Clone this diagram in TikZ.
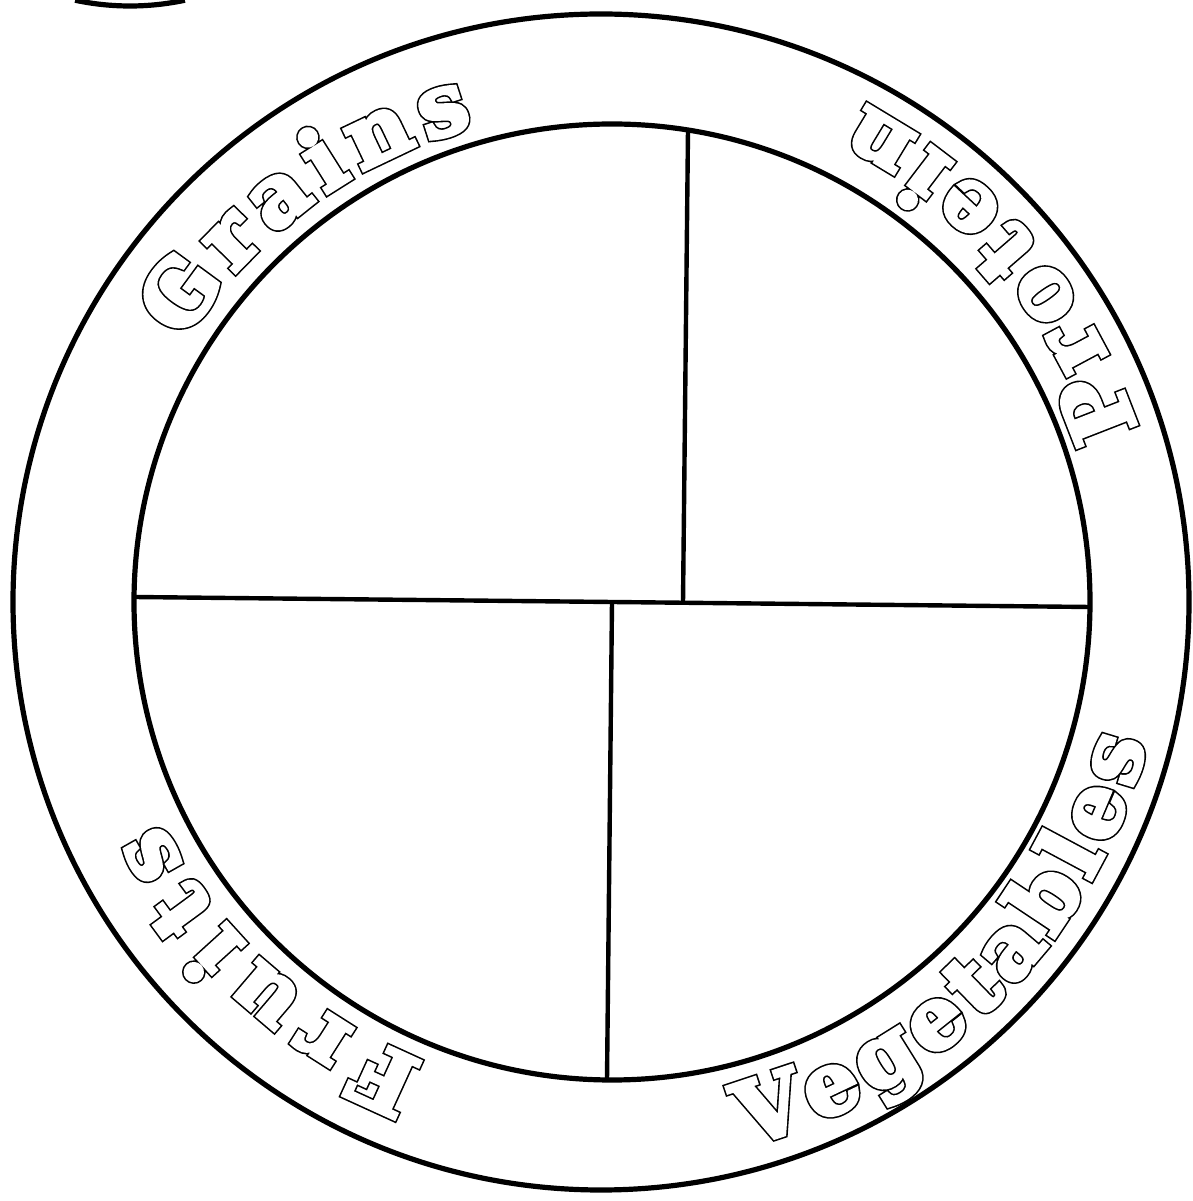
\documentclass[tikz,border=0pt]{standalone}
\usepackage{fontspec}
\usepackage{tikz}
\usetikzlibrary{decorations.text,calc}
\newfontfamily\platefont{DejaVu Serif}
% hollow heavy letters: a fat black glyph, then a thinner white one on top
\newcommand\inkfont{\platefont\bfseries\fontsize{43}{47}\selectfont\color{black}\special{pdf:literal direct 2 Tr 3.7 w}}
\newcommand\paperfont{\platefont\bfseries\fontsize{43}{47}\selectfont\color{white}\special{pdf:literal direct 2 Tr 2.1 w}}
\tikzset{
  rim/.style={draw=black, line width=2.6pt},
  divider/.style={draw=black, line width=2.2pt},
  ringink/.style={decorate, decoration={text along path, text align=fit to path, text={|\inkfont|#1}}},
  ringpaper/.style={decorate, decoration={text along path, text align=fit to path, text={|\paperfont|#1}}},
}

\begin{document}
\begin{tikzpicture}[x=0.5pt, y=0.5pt]
  \useasboundingbox (0,0) rectangle (1193,1201);
  % --- plate
  \coordinate (oc) at (601,599);
  \coordinate (ic) at (612,599);
  \draw[rim] (oc) circle[radius=588];
  \draw[rim] (ic) circle[radius=478];
  % --- piece of the next plate, top left
  \coordinate (nc) at (130,1459);
  \draw[rim] (nc) ++(-102:264) arc[start angle=-102, end angle=-78, radius=264];

  % --- dividers
  \coordinate (hl) at (134,604);
  \coordinate (hr) at (1090,594);
  \coordinate (ut) at (688,1071);
  \coordinate (ub) at (683,598);
  \coordinate (lt) at (612,599);
  \coordinate (lb) at (607,121);
  \draw[divider] (hl) -- (hr);
  \draw[divider] (ut) -- (ub);
  \draw[divider] (lt) -- (lb);

  % --- labels on the rim
  \path[ringink=Grains] (oc) ++(148:492) arc[start angle=148, end angle=105, radius=492];
  \path[ringpaper=Grains] (oc) ++(148:492) arc[start angle=148, end angle=105, radius=492];
  \path[ringink=Protein] (oc) ++(18:563) arc[start angle=18, end angle=62, radius=563];
  \path[ringpaper=Protein] (oc) ++(18:563) arc[start angle=18, end angle=62, radius=563];
  \path[ringink=Vegetables] (oc) ++(-75:563) arc[start angle=-75, end angle=-14.5, radius=563];
  \path[ringpaper=Vegetables] (oc) ++(-75:563) arc[start angle=-75, end angle=-14.5, radius=563];
  \path[ringink=Fruits] (oc) ++(249:493) arc[start angle=249, end angle=206.6, radius=493];
  \path[ringpaper=Fruits] (oc) ++(249:493) arc[start angle=249, end angle=206.6, radius=493];
\end{tikzpicture}
\end{document}
